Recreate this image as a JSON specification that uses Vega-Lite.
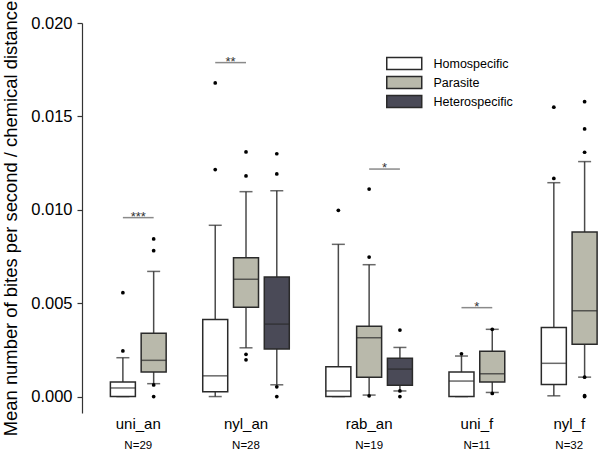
{
  "$schema": "https://vega.github.io/schema/vega-lite/v6.json",
  "width": 518,
  "height": 390,
  "autosize": "none",
  "padding": {"left": 82, "top": 23, "right": 0, "bottom": 36},
  "background": "#ffffff",
  "config": {
    "view": {"stroke": null},
    "font": "Liberation Sans"
  },
  "datasets": {
    "boxes": [
      {"group": "uni_an", "type": "Homospecific", "lo": 0.0, "q1": 0.0, "med": 0.00046, "q3": 0.00078, "hi": 0.00208},
      {"group": "uni_an", "type": "Parasite", "lo": 0.00069, "q1": 0.00131, "med": 0.00194, "q3": 0.00339, "hi": 0.0067},
      {"group": "nyl_an", "type": "Homospecific", "lo": 0.0, "q1": 0.00026, "med": 0.00111, "q3": 0.00413, "hi": 0.00917},
      {"group": "nyl_an", "type": "Parasite", "lo": 0.00261, "q1": 0.00478, "med": 0.00628, "q3": 0.00743, "hi": 0.01097},
      {"group": "nyl_an", "type": "Heterospecific", "lo": 0.00063, "q1": 0.00254, "med": 0.00388, "q3": 0.0064, "hi": 0.01102},
      {"group": "rab_an", "type": "Homospecific", "lo": 0.0, "q1": 0.0, "med": 0.0003, "q3": 0.0016, "hi": 0.00815},
      {"group": "rab_an", "type": "Parasite", "lo": 0.00008, "q1": 0.00103, "med": 0.00315, "q3": 0.00376, "hi": 0.00706},
      {"group": "rab_an", "type": "Heterospecific", "lo": 0.0003, "q1": 0.0006, "med": 0.00147, "q3": 0.00205, "hi": 0.00263},
      {"group": "uni_f", "type": "Homospecific", "lo": 0.0, "q1": 0.0, "med": 0.00083, "q3": 0.00131, "hi": 0.00217},
      {"group": "uni_f", "type": "Parasite", "lo": 0.00022, "q1": 0.00078, "med": 0.00122, "q3": 0.00242, "hi": 0.0036},
      {"group": "nyl_f", "type": "Homospecific", "lo": 0.00004, "q1": 0.00065, "med": 0.00178, "q3": 0.0037, "hi": 0.01145},
      {"group": "nyl_f", "type": "Parasite", "lo": 0.00104, "q1": 0.0028, "med": 0.0046, "q3": 0.00881, "hi": 0.01258}
    ],
    "outliers": [
      {"group": "uni_an", "type": "Homospecific", "v": 0.00244},
      {"group": "uni_an", "type": "Homospecific", "v": 0.00556},
      {"group": "uni_an", "type": "Parasite", "v": 0.00844},
      {"group": "uni_an", "type": "Parasite", "v": 0.00781},
      {"group": "uni_an", "type": "Parasite", "v": 0.00062},
      {"group": "uni_an", "type": "Parasite", "v": 0.0},
      {"group": "nyl_an", "type": "Homospecific", "v": 0.01679},
      {"group": "nyl_an", "type": "Homospecific", "v": 0.01215},
      {"group": "nyl_an", "type": "Parasite", "v": 0.0131},
      {"group": "nyl_an", "type": "Parasite", "v": 0.01181},
      {"group": "nyl_an", "type": "Parasite", "v": 0.00226},
      {"group": "nyl_an", "type": "Parasite", "v": 0.00197},
      {"group": "nyl_an", "type": "Heterospecific", "v": 0.013},
      {"group": "nyl_an", "type": "Heterospecific", "v": 0.01192},
      {"group": "nyl_an", "type": "Heterospecific", "v": 0.00052},
      {"group": "nyl_an", "type": "Heterospecific", "v": 0.0},
      {"group": "rab_an", "type": "Homospecific", "v": 0.00997},
      {"group": "rab_an", "type": "Parasite", "v": 0.01111},
      {"group": "rab_an", "type": "Parasite", "v": 0.00747},
      {"group": "rab_an", "type": "Parasite", "v": 0.00004},
      {"group": "rab_an", "type": "Heterospecific", "v": 0.00356},
      {"group": "rab_an", "type": "Heterospecific", "v": 0.0003},
      {"group": "rab_an", "type": "Heterospecific", "v": 0.0},
      {"group": "uni_f", "type": "Homospecific", "v": 0.00229},
      {"group": "uni_f", "type": "Parasite", "v": 0.0036},
      {"group": "uni_f", "type": "Parasite", "v": 0.00017},
      {"group": "nyl_f", "type": "Homospecific", "v": 0.01168},
      {"group": "nyl_f", "type": "Homospecific", "v": 0.01549},
      {"group": "nyl_f", "type": "Parasite", "v": 0.01308},
      {"group": "nyl_f", "type": "Parasite", "v": 0.01433},
      {"group": "nyl_f", "type": "Parasite", "v": 0.01579},
      {"group": "nyl_f", "type": "Parasite", "v": 0.00104},
      {"group": "nyl_f", "type": "Parasite", "v": 0.00005},
      {"group": "nyl_f", "type": "Parasite", "v": 0.0}
    ],
    "sig": [
      {"group": "uni_an", "from": "Homospecific", "to": "Parasite", "v": 0.00958, "stars": "***"},
      {"group": "nyl_an", "from": "Homospecific", "to": "Parasite", "v": 0.01788, "stars": "**"},
      {"group": "rab_an", "from": "Parasite", "to": "Heterospecific", "v": 0.01218, "stars": "*"},
      {"group": "uni_f", "from": "Homospecific", "to": "Parasite", "v": 0.00476, "stars": "*"}
    ]
  },
  "resolve": {"axis": {"x": "independent"}},
  "layer": [
    {
      "data": {"name": "boxes"},
      "transform": [{"calculate": "datum.group + '|' + datum.type", "as": "key"}],
      "mark": {"type": "rule", "color": "#4a4a4a", "strokeWidth": 1.5},
      "encoding": {
        "x": {
          "field": "key", "type": "nominal", "sort": null,
          "scale": {"domain": ["uni_an|Homospecific","uni_an|Parasite","g1","nyl_an|Homospecific","nyl_an|Parasite","nyl_an|Heterospecific","g2","rab_an|Homospecific","rab_an|Parasite","rab_an|Heterospecific","g3","uni_f|Homospecific","uni_f|Parasite","g4","nyl_f|Homospecific","nyl_f|Parasite"], "paddingInner": 0, "paddingOuter": 0.414, "align": 1},
          "axis": {
            "orient": "bottom",
            "values": ["uni_an|Homospecific","nyl_an|Parasite","rab_an|Parasite","uni_f|Homospecific","nyl_f|Homospecific"],
            "labelExpr": "split(datum.value, '|')[0]",
            "labelOffset": {"condition": {"test": "indexof(datum.value, 'Homospecific') >= 0", "value": 15.4}, "value": 0},
            "labelFont": "Liberation Sans", "labelFontSize": 15, "labelColor": "#000", "labelAngle": 0,
            "labelPadding": 3, "ticks": false, "domain": false, "grid": false, "title": null
          }
        },
        "y": {
          "field": "lo", "type": "quantitative",
          "scale": {"domain": [-0.00088, 0.02], "nice": false, "zero": false},
          "axis": {
            "values": [0, 0.005, 0.01, 0.015, 0.02], "format": ".3f",
            "title": "Mean number of bites per second / chemical distance",
            "titleFont": "Liberation Sans", "titleFontSize": 18.4, "titleFontWeight": "normal", "titleColor": "#000", "titlePadding": 10.5,
            "labelFont": "Liberation Sans", "labelFontSize": 16.5, "labelColor": "#000", "labelPadding": 5,
            "tickSize": 5, "tickColor": "#333", "tickWidth": 1.2, "domainColor": "#333", "domainWidth": 1.2, "grid": false
          }
        },
        "y2": {"field": "hi"}
      }
    },
    {
      "data": {"name": "boxes"},
      "transform": [{"calculate": "datum.group + '|' + datum.type", "as": "key"}],
      "mark": {"type": "tick", "color": "#2a2a2a", "size": 13, "thickness": 1.5, "orient": "horizontal"},
      "encoding": {
        "x": {"field": "key", "type": "nominal", "sort": null, "axis": null},
        "y": {"field": "lo", "type": "quantitative"}
      }
    },
    {
      "data": {"name": "boxes"},
      "transform": [{"calculate": "datum.group + '|' + datum.type", "as": "key"}],
      "mark": {"type": "tick", "color": "#2a2a2a", "size": 13, "thickness": 1.5, "orient": "horizontal"},
      "encoding": {
        "x": {"field": "key", "type": "nominal", "sort": null, "axis": null},
        "y": {"field": "hi", "type": "quantitative"}
      }
    },
    {
      "data": {"name": "boxes"},
      "transform": [{"calculate": "datum.group + '|' + datum.type", "as": "key"}],
      "mark": {"type": "bar", "width": {"band": 0.812}, "stroke": "#2a2a2a", "strokeWidth": 1.5},
      "encoding": {
        "x": {
          "field": "key", "type": "nominal", "sort": null,
          "axis": {
            "orient": "bottom", "offset": 23,
            "values": ["uni_an|Homospecific","nyl_an|Parasite","rab_an|Parasite","uni_f|Homospecific","nyl_f|Homospecific"],
            "labelExpr": "indexof(datum.value,'uni_an')==0 ? 'N=29' : indexof(datum.value,'nyl_an')==0 ? 'N=28' : indexof(datum.value,'rab_an')==0 ? 'N=19' : indexof(datum.value,'uni_f')==0 ? 'N=11' : 'N=32'",
            "labelOffset": {"condition": {"test": "indexof(datum.value, 'Homospecific') >= 0", "value": 15.4}, "value": 0},
            "labelFont": "Liberation Sans", "labelFontSize": 11.5, "labelColor": "#000", "labelAngle": 0,
            "labelPadding": 3, "ticks": false, "domain": false, "grid": false, "title": null
          }
        },
        "y": {"field": "q1", "type": "quantitative"},
        "y2": {"field": "q3"},
        "fill": {
          "field": "type", "type": "nominal",
          "scale": {"domain": ["Homospecific", "Parasite", "Heterospecific"], "range": ["#ffffff", "#b9b9ab", "#4a4a57"]},
          "legend": {
            "orient": "none", "legendX": 312.75, "legendY": 31, "title": null,
            "symbolType": "M-2,-0.68H2V0.68H-2Z", "symbolSize": 306, "symbolStrokeColor": "#2a2a2a", "symbolStrokeWidth": 1.5,
            "labelFont": "Liberation Sans", "labelFontSize": 12.5, "labelColor": "#000", "labelOffset": 19.75, "rowPadding": -1.5
          }
        }
      }
    },
    {
      "data": {"name": "boxes"},
      "transform": [{"calculate": "datum.group + '|' + datum.type", "as": "key"}],
      "mark": {"type": "tick", "color": "#2a2a2a", "size": 25, "thickness": 1.5, "orient": "horizontal"},
      "encoding": {
        "x": {"field": "key", "type": "nominal", "sort": null, "axis": null},
        "y": {"field": "med", "type": "quantitative"}
      }
    },
    {
      "data": {"name": "outliers"},
      "transform": [{"calculate": "datum.group + '|' + datum.type", "as": "key"}],
      "mark": {"type": "point", "filled": true, "color": "#000", "size": 14, "opacity": 1},
      "encoding": {
        "x": {"field": "key", "type": "nominal", "sort": null, "axis": null},
        "y": {"field": "v", "type": "quantitative"}
      }
    },
    {
      "data": {"name": "sig"},
      "transform": [
        {"calculate": "datum.group + '|' + datum.from", "as": "k1"},
        {"calculate": "datum.group + '|' + datum.to", "as": "k2"}
      ],
      "mark": {"type": "rule", "color": "#8a8a8a", "strokeWidth": 1.5},
      "encoding": {
        "x": {"field": "k1", "type": "nominal", "sort": null, "axis": null},
        "x2": {"field": "k2"},
        "y": {"field": "v", "type": "quantitative"}
      }
    },
    {
      "data": {"name": "sig"},
      "transform": [{"calculate": "datum.group + '|' + datum.from", "as": "k1"}],
      "mark": {"type": "text", "color": "#333", "fontSize": 13, "baseline": "alphabetic", "dy": 3, "font": "Liberation Sans"},
      "encoding": {
        "x": {"field": "k1", "type": "nominal", "sort": null, "bandPosition": 1, "axis": null},
        "y": {"field": "v", "type": "quantitative"},
        "text": {"field": "stars"}
      }
    }
  ]
}
